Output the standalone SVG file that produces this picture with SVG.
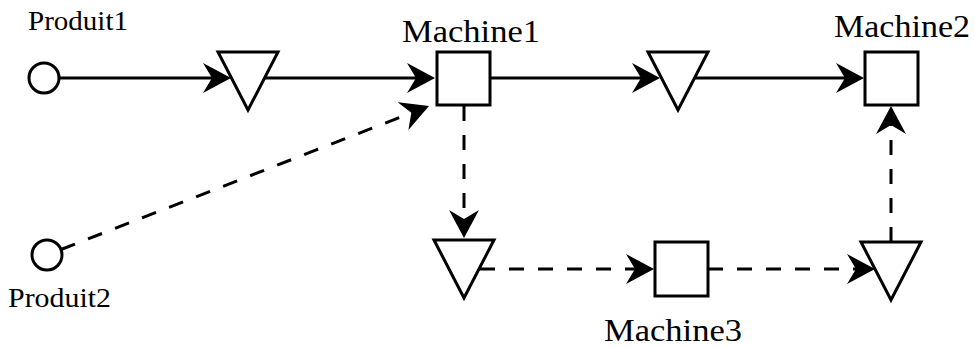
<svg xmlns="http://www.w3.org/2000/svg" width="975" height="348" viewBox="0 0 975 348">
<style>
.shape{fill:#fff;stroke:#000;stroke-width:3}
.ln{fill:none;stroke:#000;stroke-width:3;marker-end:url(#arr)}
.dash{stroke-dasharray:15 14}
.lbl{font-family:"Liberation Serif","Times New Roman",serif;fill:#000}
.prod{font-size:28px}
.mach{font-size:32px;text-anchor:middle}
</style>
<defs>
<marker id="arr" markerUnits="userSpaceOnUse" markerWidth="30" markerHeight="32" refX="18" refY="15" orient="auto">
<path d="M0,0 L28,15 L0,30 L9,15 Z" fill="#000" stroke="none"/>
</marker>
</defs>
<rect width="975" height="348" fill="#fff"/>
<g id="connectors">
<line class="ln" x1="59" y1="78" x2="221" y2="78"/>
<line class="ln" x1="265" y1="78" x2="425" y2="78"/>
<line class="ln" x1="490" y1="78" x2="650" y2="78"/>
<line class="ln" x1="695" y1="78" x2="854" y2="78"/>
<line class="ln dash" x1="61" y1="249.5" x2="419.7" y2="109.6"/>
<line class="ln dash" x1="464" y1="106" x2="464" y2="228"/>
<line class="ln dash" x1="480" y1="269" x2="644" y2="269"/>
<line class="ln dash" x1="708" y1="269" x2="865" y2="269"/>
<line class="ln dash" x1="891" y1="242" x2="891" y2="116"/>
</g>
<g id="produit1">
<circle class="shape" cx="44" cy="78" r="15"/>
<text class="lbl prod" x="28" y="30" textLength="100" lengthAdjust="spacingAndGlyphs">Produit1</text>
</g>
<g id="produit2">
<circle class="shape" cx="47" cy="255" r="15"/>
<text class="lbl prod" x="8" y="307" textLength="103" lengthAdjust="spacingAndGlyphs">Produit2</text>
</g>
<g id="stock1">
<polygon class="shape" points="218,52 278,52 248,110"/>
</g>
<g id="machine1">
<rect class="shape" x="437" y="52" width="53" height="53"/>
<text class="lbl mach" x="471" y="42" textLength="138" lengthAdjust="spacingAndGlyphs">Machine1</text>
</g>
<g id="stock2">
<polygon class="shape" points="648,52 708,52 678,110"/>
</g>
<g id="machine2">
<rect class="shape" x="865" y="52" width="53" height="53"/>
<text class="lbl mach" x="902" y="37" textLength="136" lengthAdjust="spacingAndGlyphs">Machine2</text>
</g>
<g id="stock3">
<polygon class="shape" points="434,240 494,240 464,298"/>
</g>
<g id="machine3">
<rect class="shape" x="655" y="242" width="53" height="54"/>
<text class="lbl mach" x="673" y="341" textLength="138" lengthAdjust="spacingAndGlyphs">Machine3</text>
</g>
<g id="stock4">
<polygon class="shape" points="861,242 921,242 891,300"/>
</g>
</svg>
